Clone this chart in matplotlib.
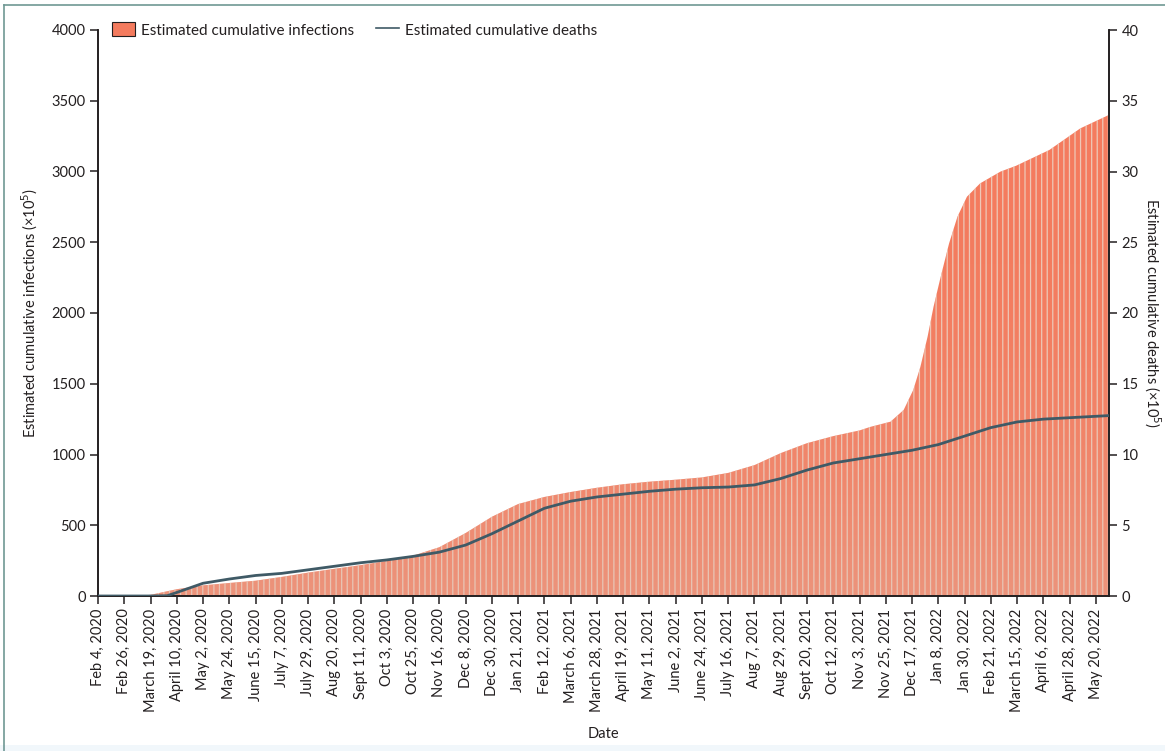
import numpy as np
import pandas as pd
import matplotlib
matplotlib.use("Agg")
import matplotlib.pyplot as plt
from matplotlib.lines import Line2D
from matplotlib.patches import Patch
from matplotlib.colors import LinearSegmentedColormap

# ---------------- data ----------------
infection_dates = ["2020-02-04", "2020-03-05", "2020-03-19", "2020-04-10", "2020-05-02",
                   "2020-05-24", "2020-06-15", "2020-07-07", "2020-07-29", "2020-08-20",
                   "2020-09-11", "2020-10-03", "2020-10-25", "2020-11-16", "2020-12-08",
                   "2020-12-30", "2021-01-21", "2021-02-12", "2021-03-06", "2021-03-28",
                   "2021-04-19", "2021-05-11", "2021-06-02", "2021-06-24", "2021-07-16",
                   "2021-08-07", "2021-08-29", "2021-09-20", "2021-10-12", "2021-11-03",
                   "2021-11-12", "2021-11-29", "2021-12-10", "2021-12-18", "2021-12-24",
                   "2021-12-30", "2022-01-04", "2022-01-10", "2022-01-17", "2022-01-24",
                   "2022-02-01", "2022-02-12", "2022-03-01", "2022-03-14", "2022-04-11",
                   "2022-05-07", "2022-05-31"]
infections = [0, 0, 8, 48, 75,
              92, 108, 135, 165, 192,
              218, 248, 285, 345, 445,
              560, 650, 700, 735, 765,
              790, 808, 822, 838, 870,
              925, 1010, 1080, 1130, 1170,
              1195, 1232, 1315, 1456, 1620,
              1832, 2044, 2256, 2491, 2680,
              2822, 2916, 2999, 3040, 3152,
              3305, 3400]

death_dates = ["2020-02-04", "2020-03-19", "2020-04-02", "2020-04-10", "2020-05-02",
               "2020-05-24", "2020-06-15", "2020-07-07", "2020-07-29", "2020-08-20",
               "2020-09-11", "2020-10-03", "2020-10-25", "2020-11-16", "2020-12-08",
               "2020-12-30", "2021-01-21", "2021-02-12", "2021-03-06", "2021-03-28",
               "2021-04-19", "2021-05-11", "2021-06-02", "2021-06-24", "2021-07-16",
               "2021-08-07", "2021-08-29", "2021-09-20", "2021-10-12", "2021-11-03",
               "2021-11-25", "2021-12-17", "2022-01-08", "2022-01-30", "2022-02-21",
               "2022-03-15", "2022-04-06", "2022-04-28", "2022-05-20", "2022-05-31"]
deaths = [0, 0, 0.02, 0.25, 0.9,
          1.2, 1.45, 1.6, 1.85, 2.1,
          2.35, 2.55, 2.8, 3.1, 3.6,
          4.4, 5.3, 6.2, 6.7, 7.0,
          7.2, 7.4, 7.55, 7.65, 7.7,
          7.85, 8.3, 8.9, 9.4, 9.7,
          10.0, 10.3, 10.7, 11.3, 11.9,
          12.3, 12.5, 12.6, 12.7, 12.75]

tick_dates = ["2020-02-04", "2020-02-26", "2020-03-19", "2020-04-10", "2020-05-02",
              "2020-05-24", "2020-06-15", "2020-07-07", "2020-07-29", "2020-08-20",
              "2020-09-11", "2020-10-03", "2020-10-25", "2020-11-16", "2020-12-08",
              "2020-12-30", "2021-01-21", "2021-02-12", "2021-03-06", "2021-03-28",
              "2021-04-19", "2021-05-11", "2021-06-02", "2021-06-24", "2021-07-16",
              "2021-08-07", "2021-08-29", "2021-09-20", "2021-10-12", "2021-11-03",
              "2021-11-25", "2021-12-17", "2022-01-08", "2022-01-30", "2022-02-21",
              "2022-03-15", "2022-04-06", "2022-04-28", "2022-05-20"]
tick_labels = ["Feb 4, 2020", "Feb 26, 2020", "March 19, 2020", "April 10, 2020", "May 2, 2020",
               "May 24, 2020", "June 15, 2020", "July 7, 2020", "July 29, 2020", "Aug 20, 2020",
               "Sept 11, 2020", "Oct 3, 2020", "Oct 25, 2020", "Nov 16, 2020", "Dec 8, 2020",
               "Dec 30, 2020", "Jan 21, 2021", "Feb 12, 2021", "March 6, 2021", "March 28, 2021",
               "April 19, 2021", "May 11, 2021", "June 2, 2021", "June 24, 2021", "July 16, 2021",
               "Aug 7, 2021", "Aug 29, 2021", "Sept 20, 2021", "Oct 12, 2021", "Nov 3, 2021",
               "Nov 25, 2021", "Dec 17, 2021", "Jan 8, 2022", "Jan 30, 2022", "Feb 21, 2022",
               "March 15, 2022", "April 6, 2022", "April 28, 2022", "May 20, 2022"]

# ---------------- style ----------------
plt.rcParams['font.family'] = ['Lato', 'DejaVu Sans']
plt.rcParams['hatch.linewidth'] = 0.9

SALMON = "#f47b5e"
LINE = "#3f5a66"
INK = "#231f20"

origin = pd.Timestamp("2020-02-04")
def to_days(ds):
    return np.array([(pd.Timestamp(d) - origin).days for d in ds], dtype=float)

xi = to_days(infection_dates)
xd = to_days(death_dates)
xt = to_days(tick_dates)
XMAX = 847

fig = plt.figure(figsize=(11.65, 7.51), dpi=100)
ax = fig.add_axes([98/1165, 1 - 596/751, (1109 - 98)/1165, (596 - 30)/751])
ax2 = ax.twinx()

poly = ax.fill_between(xi, 0, infections, facecolor=SALMON,
                       edgecolor=(0.93, 0.84, 0.78, 0.85),
                       linewidth=0, hatch='|||', zorder=2)
# slightly washed-out lower part of the daily bars
cmap = LinearSegmentedColormap.from_list(
    "wash", [(0.87, 0.76, 0.70, 0.0), (0.87, 0.76, 0.70, 0.35)])
grad = np.linspace(1, 0, 200).reshape(-1, 1) ** 2.0
im = ax.imshow(grad, extent=[0, XMAX, 0, 3000], origin='lower', aspect='auto',
               cmap=cmap, vmin=0, vmax=1, zorder=2.5, interpolation='bilinear')
im.set_clip_path(poly.get_paths()[0], transform=ax.transData)

ax2.plot(xd, deaths, color=LINE, lw=2.0, zorder=3)

ax.set_xlim(0, XMAX)
ax.set_ylim(0, 4000)
ax2.set_ylim(0, 40)
ax.set_yticks(np.arange(0, 4001, 500))
ax2.set_yticks(np.arange(0, 41, 5))
ax.set_xticks(xt)
ax.set_xticklabels(tick_labels, rotation=90, fontsize=10.5, color=INK)

for a in (ax, ax2):
    a.spines['top'].set_visible(False)
    for s in ('left', 'right', 'bottom'):
        a.spines[s].set_linewidth(1.2)
        a.spines[s].set_color(INK)
    a.tick_params(axis='both', direction='out', length=6, width=1.1, colors=INK,
                  labelsize=10.5, labelcolor=INK)
ax.tick_params(axis='x', pad=3)
ax.tick_params(axis='y', pad=3)
ax2.tick_params(axis='y', pad=3)

ax.set_ylabel("Estimated cumulative infections (×10$^5$)", fontsize=10.5, color=INK, labelpad=8)
ax2.set_ylabel("Estimated cumulative deaths (×10$^5$)", fontsize=10.5, color=INK,
               rotation=270, labelpad=17)
ax.set_xlabel("Date", fontsize=10.5, color=INK, labelpad=11)

ax2.set_zorder(ax.get_zorder() + 1)
ax2.patch.set_visible(False)

handles = [Patch(facecolor=SALMON, edgecolor=INK, linewidth=0.8),
           Line2D([0], [0], color=LINE, lw=1.2)]
leg = ax.legend(handles, ["Estimated cumulative infections", "Estimated cumulative deaths"],
                loc='center left', bbox_to_anchor=(0.014, 1.0), ncol=2, frameon=False,
                fontsize=11, handlelength=1.5, handleheight=1.0, columnspacing=1.4,
                handletextpad=0.4, borderaxespad=0, borderpad=0)
for t in leg.get_texts():
    t.set_color(INK)

# figure frame lines
fig.add_artist(Line2D([4/1165, 1], [1 - 5/751, 1 - 5/751], color="#6f9894", lw=1.2,
                      transform=fig.transFigure))
fig.add_artist(Line2D([4/1165, 4/1165], [0, 1 - 5/751], color="#6f9894", lw=1.2,
                      transform=fig.transFigure))
fig.patches.append(plt.Rectangle((0, 0), 1, 6/751, transform=fig.transFigure,
                                 facecolor="#f1f7fb", edgecolor='none', zorder=-1))

fig.savefig("out.png", dpi=100)
